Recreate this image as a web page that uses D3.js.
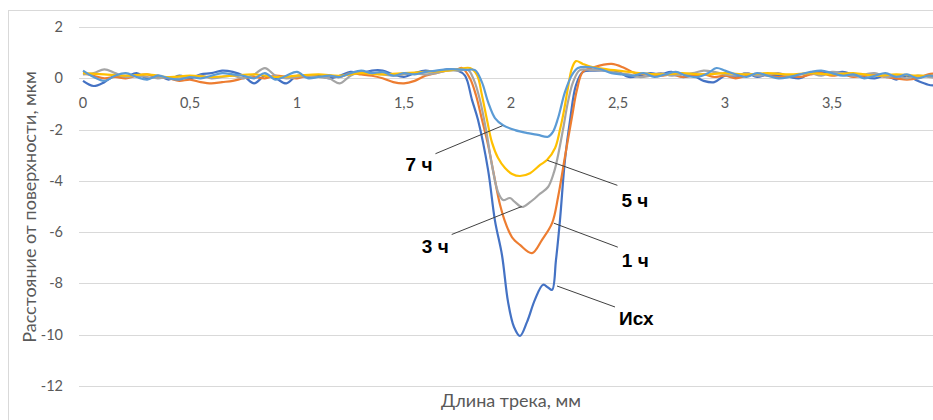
<!DOCTYPE html>
<html>
<head>
<meta charset="utf-8">
<script src="https://cdn.jsdelivr.net/npm/d3@7"></script>
<style>
  body { margin: 0; background: #fff; }
  svg { display: block; font-family: Lato, "Open Sans", sans-serif; }
</style>
</head>
<body>
<svg id="chart" width="933" height="420"></svg>
<script>
// track length, mm / distance from surface, um  ([x, y])
const seriesNames = ["Исх", "1 ч", "3 ч", "5 ч", "7 ч"];
const seriesColors = ["#4472C4", "#ED7D31", "#A5A5A5", "#FFC000", "#5B9BD5"];

const ishData = [
  [0,-0.1],[0.05,-0.3],[0.1,-0.15],[0.15,0.1],[0.2,0.05],[0.25,0.2],[0.3,0.0],[0.35,0.1],[0.4,-0.05],[0.45,0.1],
  [0.5,0.0],[0.55,0.15],[0.6,0.2],[0.65,0.3],[0.7,0.25],[0.75,0.1],[0.8,-0.2],[0.85,0.1],[0.9,0.0],[0.95,-0.2],
  [1.0,0.1],[1.05,0.05],[1.1,0.1],[1.15,0.0],[1.2,0.1],[1.25,0.25],[1.3,0.2],[1.35,0.3],[1.4,0.3],[1.45,0.15],
  [1.5,0.05],[1.55,0.2],[1.6,0.3],[1.65,0.25],[1.7,0.35],[1.75,0.3],
  [1.785,0.1],[1.818,-0.85],[1.846,-1.63],[1.893,-3.58],[1.925,-5.55],[1.958,-6.9],[1.986,-8.71],[2.014,-9.7],
  [2.042,-10.05],[2.075,-9.5],[2.112,-8.63],[2.15,-8.05],[2.173,-8.16],[2.192,-8.25],[2.21,-7.1],[2.229,-5.52],
  [2.252,-3.19],[2.276,-1.63],[2.304,-0.26],[2.336,0.25],[2.39,0.3],
  [2.45,0.3],[2.5,0.25],[2.55,0.05],[2.6,0.1],[2.65,0.2],[2.7,0.15],[2.75,0.25],[2.8,0.05],[2.85,0.1],[2.9,-0.1],
  [2.95,-0.15],[3.0,0.1],[3.05,0.05],[3.1,0.2],[3.15,0.05],[3.2,0.15],[3.25,0.1],[3.3,0.05],[3.35,0.0],[3.4,0.2],
  [3.45,0.25],[3.5,0.2],[3.55,0.25],[3.6,0.15],[3.65,0.05],[3.7,0.0],[3.75,0.1],[3.8,-0.05],[3.85,0.1],[3.9,-0.1],
  [3.95,-0.25],[4.0,-0.3]
];

const h1Data = [
  [0,0.2],[0.05,0.1],[0.1,0.0],[0.15,0.05],[0.2,0.0],[0.25,0.1],[0.3,0.15],[0.35,0.05],[0.4,0.0],[0.45,-0.1],
  [0.5,-0.05],[0.55,-0.15],[0.6,-0.2],[0.65,-0.15],[0.7,-0.1],[0.75,0.0],[0.8,0.05],[0.85,0.0],[0.9,0.1],[0.95,0.05],
  [1.0,0.0],[1.05,0.1],[1.1,0.05],[1.15,0.1],[1.2,0.05],[1.25,0.2],[1.3,0.15],[1.35,0.1],[1.4,0.0],[1.45,-0.15],
  [1.5,-0.2],[1.55,-0.1],[1.6,0.1],[1.65,0.2],[1.7,0.3],[1.75,0.35],
  [1.771,0.4],[1.808,0.0],[1.836,-0.65],[1.864,-1.6],[1.893,-2.6],[1.921,-3.8],[1.949,-4.94],[1.977,-5.7],
  [2.005,-6.2],[2.042,-6.5],[2.098,-6.82],[2.145,-6.3],[2.192,-5.65],[2.22,-4.63],[2.252,-3.07],[2.285,-1.5],
  [2.308,-0.46],[2.336,0.25],[2.39,0.44],[2.47,0.56],
  [2.53,0.4],[2.58,0.2],[2.63,0.15],[2.7,0.1],[2.75,0.15],[2.8,0.05],[2.85,0.1],[2.9,0.15],[2.95,0.05],[3.0,0.1],
  [3.05,0.0],[3.1,0.1],[3.15,0.15],[3.2,0.1],[3.25,0.05],[3.3,0.1],[3.35,0.05],[3.4,0.15],[3.45,0.2],[3.5,0.1],
  [3.55,0.15],[3.6,0.05],[3.65,0.1],[3.7,0.15],[3.75,0.05],[3.8,0.0],[3.85,-0.05],[3.9,0.0],[3.95,0.15],[4.0,0.2]
];

const h3Data = [
  [0,0.15],[0.05,0.2],[0.1,0.35],[0.15,0.2],[0.2,0.05],[0.25,0.1],[0.3,0.05],[0.35,0.0],[0.4,0.05],[0.45,0.0],
  [0.5,0.05],[0.55,0.1],[0.6,0.0],[0.65,0.05],[0.7,0.1],[0.75,0.0],[0.8,0.15],[0.85,0.4],[0.9,0.1],[0.95,0.0],
  [1.0,0.05],[1.05,0.1],[1.1,0.05],[1.15,0.0],[1.2,-0.2],[1.25,0.1],[1.3,0.25],[1.35,0.2],[1.4,0.15],[1.45,0.1],
  [1.5,0.15],[1.55,0.2],[1.6,0.15],[1.65,0.2],[1.7,0.3],[1.75,0.3],
  [1.799,0.32],[1.827,-0.07],[1.855,-0.85],[1.883,-2.0],[1.911,-3.38],[1.939,-4.43],[1.963,-4.75],[1.995,-4.67],
  [2.019,-4.83],[2.051,-5.02],[2.089,-4.83],[2.136,-4.5],[2.173,-4.24],[2.201,-3.66],[2.22,-3.0],[2.243,-2.0],
  [2.266,-0.93],[2.29,-0.15],[2.322,0.32],[2.38,0.32],
  [2.45,0.3],[2.5,0.2],[2.55,0.15],[2.6,0.05],[2.65,0.1],[2.7,0.2],[2.75,0.1],[2.8,0.15],[2.85,0.2],[2.9,0.3],
  [2.95,0.25],[3.0,0.15],[3.05,0.1],[3.1,0.2],[3.15,0.1],[3.2,0.15],[3.25,0.2],[3.3,0.1],[3.35,0.15],[3.4,0.2],
  [3.45,0.1],[3.5,0.25],[3.55,0.2],[3.6,0.1],[3.65,0.15],[3.7,0.2],[3.75,0.05],[3.8,0.1],[3.85,0.0],[3.9,0.1],
  [3.95,0.05],[4.0,0.0]
];

const h5Data = [
  [0,0.2],[0.1,0.15],[0.2,0.1],[0.3,0.15],[0.4,0.05],[0.5,0.1],[0.6,0.05],[0.7,0.1],[0.8,0.15],[0.9,0.05],
  [1.0,0.1],[1.1,0.15],[1.2,0.1],[1.3,0.2],[1.4,0.15],[1.5,0.2],[1.6,0.25],[1.7,0.3],[1.75,0.35],
  [1.808,0.4],[1.841,0.13],[1.864,-0.65],[1.888,-1.63],[1.911,-2.5],[1.939,-3.1],[1.972,-3.5],[2.005,-3.73],
  [2.042,-3.81],[2.089,-3.7],[2.136,-3.38],[2.168,-3.19],[2.206,-2.72],[2.229,-2.0],[2.248,-1.24],[2.266,-0.38],
  [2.285,0.4],[2.304,0.67],[2.336,0.56],[2.38,0.44],
  [2.45,0.35],[2.5,0.3],[2.6,0.2],[2.7,0.15],[2.8,0.2],[2.9,0.15],[3.0,0.2],[3.1,0.15],[3.2,0.2],[3.3,0.15],
  [3.4,0.2],[3.5,0.15],[3.6,0.2],[3.7,0.1],[3.8,0.15],[3.9,0.1],[4.0,0.1]
];

const h7Data = [
  [0,0.3],[0.05,0.05],[0.1,-0.1],[0.15,0.1],[0.2,0.2],[0.25,0.05],[0.3,-0.05],[0.35,0.1],[0.4,0.0],[0.45,-0.05],
  [0.5,0.05],[0.55,0.0],[0.6,0.1],[0.65,0.2],[0.7,0.15],[0.75,0.1],[0.8,0.0],[0.85,0.2],[0.9,-0.05],[0.95,0.1],
  [1.0,0.25],[1.05,0.0],[1.1,0.05],[1.15,0.1],[1.2,0.05],[1.25,0.2],[1.3,0.3],[1.35,0.2],[1.4,0.25],[1.45,0.1],
  [1.5,0.2],[1.55,0.15],[1.6,0.25],[1.65,0.3],[1.7,0.35],[1.75,0.35],[1.795,0.33],
  [1.832,0.32],[1.864,-0.15],[1.893,-0.93],[1.925,-1.55],[1.963,-1.83],[2.019,-2.02],[2.079,-2.14],[2.126,-2.21],
  [2.173,-2.28],[2.196,-2.09],[2.22,-1.55],[2.252,-0.54],[2.285,0.13],[2.313,0.4],[2.36,0.44],
  [2.42,0.35],[2.47,0.2],[2.52,0.15],[2.57,0.1],[2.62,0.2],[2.67,0.05],[2.72,0.15],[2.77,0.25],[2.82,0.1],[2.87,0.05],
  [2.92,0.2],[2.96,0.4],[3.0,0.3],[3.05,0.15],[3.1,0.05],[3.15,0.2],[3.2,0.1],[3.25,0.0],[3.3,0.05],[3.35,0.15],
  [3.4,0.25],[3.45,0.3],[3.5,0.2],[3.55,0.1],[3.6,0.15],[3.65,0.0],[3.7,0.1],[3.75,0.2],[3.8,0.05],[3.85,0.15],
  [3.9,0.0],[3.95,0.1],[4.0,0.05]
];

const allSeries = [ishData, h1Data, h3Data, h5Data, h7Data];

const xTicks = [0, 0.5, 1, 1.5, 2, 2.5, 3, 3.5];
const yTicks = [2, 0, -2, -4, -6, -8, -10, -12];

// label anchor on each curve (data units), leader end offset and text baseline offset (px)
const labelAnchors = [[2.215, -8.1], [2.2, -5.65], [2.05, -5.0], [2.17, -3.2], [1.96, -1.85]];
const labelOffsets = [[58, 21], [64, 24], [-70, 28], [70, 25], [-67, 28]];
const labelTextDy = [18, 20, 18, 22, 17];

const svg = d3.select("#chart");
const width = 933, height = 420;

const x = d3.scaleLinear().domain([0, 4]).range([83, 939]);
const y = d3.scaleLinear().domain([-12, 2]).range([386, 27]);
const fmt = d => String(d).replace(".", ",");

// chart area border
svg.append("rect")
    .attr("x", 8.5).attr("y", 10.5)
    .attr("width", 960).attr("height", 440)
    .attr("fill", "none")
    .attr("stroke", "#d9d9d9");

// horizontal gridlines
svg.append("g")
    .selectAll("line")
    .data(yTicks)
    .join("line")
    .attr("x1", 79).attr("x2", width)
    .attr("y1", d => Math.round(y(d)) + 0.5)
    .attr("y2", d => Math.round(y(d)) + 0.5)
    .attr("stroke", "#d9d9d9")
    .attr("stroke-width", 1);

// y tick labels
svg.append("g")
    .selectAll("text")
    .data(yTicks)
    .join("text")
    .attr("x", 63)
    .attr("y", d => y(d) + 5)
    .attr("text-anchor", "end")
    .attr("font-size", 14.5)
    .attr("fill", "#595959")
    .text(fmt);

// x tick labels sit under the zero line
svg.append("g")
    .selectAll("text")
    .data(xTicks)
    .join("text")
    .attr("x", d => x(d))
    .attr("y", y(0) + 30)
    .attr("text-anchor", "middle")
    .attr("font-size", 14.5)
    .attr("fill", "#595959")
    .text(fmt);

// axis titles
svg.append("text")
    .attr("transform", "translate(36,207) rotate(-90)")
    .attr("text-anchor", "middle")
    .attr("font-size", 18)
    .attr("fill", "#595959")
    .text("Расстояние от поверхности, мкм");

svg.append("text")
    .attr("x", 511).attr("y", 407)
    .attr("text-anchor", "middle")
    .attr("font-size", 18)
    .attr("fill", "#595959")
    .text("Длина трека, мм");

// curves
svg.append("clipPath").attr("id", "plotClip")
    .append("rect").attr("x", 0).attr("y", 0).attr("width", width).attr("height", height);

const line = d3.line()
    .x(d => x(d[0]))
    .y(d => y(d[1]))
    .curve(d3.curveCatmullRom.alpha(0.5));

svg.append("g")
    .attr("clip-path", "url(#plotClip)")
    .selectAll("path")
    .data(allSeries)
    .join("path")
    .attr("d", line)
    .attr("fill", "none")
    .attr("stroke", (d, i) => seriesColors[i])
    .attr("stroke-width", 2.2)
    .attr("stroke-linejoin", "round");

// callout labels with leader lines
const callouts = svg.append("g");
labelAnchors.forEach(function(a, i) {
    const ax = x(a[0]), ay = y(a[1]);
    const lx = ax + labelOffsets[i][0], ly = ay + labelOffsets[i][1];
    callouts.append("line")
        .attr("x1", ax).attr("y1", ay)
        .attr("x2", lx).attr("y2", ly)
        .attr("stroke", "#404040")
        .attr("stroke-width", 1);
    const leftSide = labelOffsets[i][0] < 0;
    callouts.append("text")
        .attr("x", leftSide ? lx - 3 : lx + 4)
        .attr("y", ly + labelTextDy[i])
        .attr("text-anchor", leftSide ? "end" : "start")
        .attr("font-family", "Liberation Sans, Arial, sans-serif")
        .attr("font-weight", "bold")
        .attr("font-size", 19)
        .attr("fill", "#000")
        .text(seriesNames[i]);
});
</script>
</body>
</html>
